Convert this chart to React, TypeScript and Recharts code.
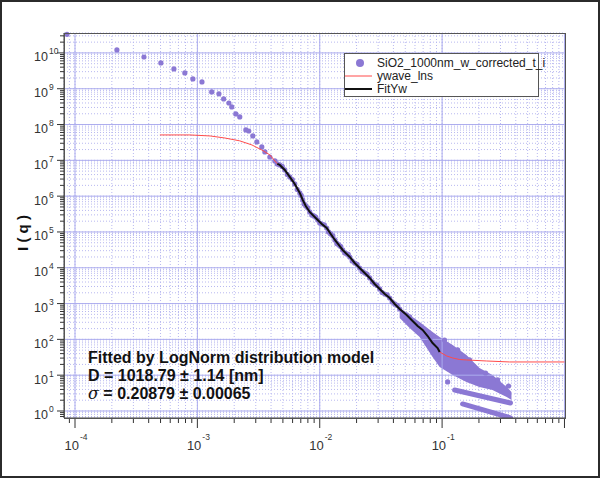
import React from 'react'
import { ComposedChart, XAxis, YAxis, CartesianGrid, Line, Area, ReferenceLine } from 'recharts'

const PURPLE = '#8b78d4'
const FONT = '"Liberation Sans", Arial, Helvetica, sans-serif'

// axis ranges
const qDomain = [8.13e-5, 1.01]
const iDomain = [0.637, 3.6e10]

// tick positions
const qDecades = [1e-5, 1e-4, 1e-3, 1e-2, 1e-1, 1]
const iDecades = [1e-1, 1, 1e1, 1e2, 1e3, 1e4, 1e5, 1e6, 1e7, 1e8, 1e9, 1e10]
const multipliers = [1, 2, 3, 4, 5, 6, 7, 8, 9]
const qMajor = [1e-4, 1e-3, 1e-2, 1e-1, 1]
const iMajor = [1, 1e1, 1e2, 1e3, 1e4, 1e5, 1e6, 1e7, 1e8, 1e9, 1e10]

// SiO2_1000nm_w_corrected_t_i  (q, I)
const measuredLowQ: [number, number][] = [
  [8.6e-5, 3.3e10], [2.2e-4, 1.21e10], [3.66e-4, 7.7e9], [5.03e-4, 5.26e9], [6.43e-4, 3.57e9],
  [7.9e-4, 2.76e9], [9.19e-4, 1.88e9], [1.09e-3, 1.55e9], [1.31e-3, 8.15e8], [1.5e-3, 7.2e8],
  [1.64e-3, 5.2e8], [1.81e-3, 4.0e8], [1.91e-3, 3.1e8], [2.06e-3, 1.98e8], [2.22e-3, 1.63e8],
  [2.49e-3, 7.06e7], [2.63e-3, 6.6e7], [2.84e-3, 4.8e7], [3.06e-3, 3.27e7], [3.36e-3, 2.37e7],
  [3.56e-3, 1.72e7], [3.91e-3, 1.24e7], [4.3e-3, 9.6e6],
]
const measuredMidQ: [number, number][] = [
  [4.5e-3, 7.93e6], [4.71e-3, 7.45e6], [4.94e-3, 6.76e6], [5.18e-3, 5.4e6], [5.43e-3, 4.04e6],
  [5.69e-3, 3.44e6], [5.97e-3, 2.92e6], [6.25e-3, 2.19e6], [6.55e-3, 1.54e6], [6.87e-3, 1.23e6],
  [7.06e-3, 1.05e6], [7.26e-3, 7.83e5], [7.46e-3, 6.05e5], [7.69e-3, 5.32e5], [7.98e-3, 4.68e5],
  [8.28e-3, 3.62e5], [8.61e-3, 2.98e5], [8.93e-3, 2.8e5], [9.27e-3, 2.62e5], [9.63e-3, 2.16e5],
  [1.0e-2, 1.78e5], [1.04e-2, 1.67e5], [1.09e-2, 1.57e5], [1.14e-2, 1.29e5], [1.18e-2, 1.0e5],
  [1.23e-2, 8.8e4], [1.28e-2, 7.73e4], [1.33e-2, 5.98e4], [1.38e-2, 4.77e4], [1.43e-2, 4.34e4],
  [1.48e-2, 3.94e4], [1.54e-2, 3.14e4], [1.6e-2, 2.59e4], [1.66e-2, 2.43e4], [1.71e-2, 2.36e4],
  [1.76e-2, 2.0e4], [1.84e-2, 1.55e4], [1.93e-2, 1.36e4], [2.02e-2, 1.24e4], [2.12e-2, 9.86e3],
  [2.22e-2, 7.89e3], [2.33e-2, 7.16e3], [2.44e-2, 6.5e3], [2.56e-2, 5.19e3], [2.69e-2, 4.01e3],
  [2.81e-2, 3.52e3], [2.94e-2, 3.21e3], [3.09e-2, 2.56e3], [3.24e-2, 2.04e3], [3.4e-2, 1.85e3],
  [3.56e-2, 1.74e3], [3.73e-2, 1.43e3], [3.91e-2, 1.11e3], [4.1e-2, 975], [4.3e-2, 885],
  [4.5e-2, 706], [4.81e-2, 546], [5.13e-2, 481], [5.43e-2, 423], [5.74e-2, 327],
  [6.03e-2, 261], [6.31e-2, 237], [6.61e-2, 222], [6.93e-2, 183], [7.26e-2, 142],
  [7.62e-2, 124], [7.98e-2, 106], [8.36e-2, 79], [8.77e-2, 63.4], [9.19e-2, 57.5],
]
const measuredHighQ: [number, number][] = [
  [0.1047, 96.2], [0.134, 50.6], [0.1675, 26.6], [0.2265, 11.5], [0.284, 7.35],
  [0.349, 4.99], [0.111, 6.5], [0.177, 15.9],
]
// dense cloud of points at high q (upper / lower envelope)
const cloudQ = [0.045, 0.0543, 0.0655, 0.0836, 0.0955, 0.122, 0.158, 0.202, 0.258, 0.337, 0.369]
const cloudHi = [754, 481, 306, 161, 117, 69.8, 36.6, 15.9, 10.1, 4.68, 3.4]
const cloudLo = [396, 208, 117, 32.2, 16.9, 10.1, 6.46, 4.68, 3.86, 2.46, 2.03]
// two streaks of points below the cloud
const streak1: [number, number][] = [[0.1265, 3.86], [0.362, 1.67]]
const streak2: [number, number][] = [[0.147, 1.57], [0.362, 0.645]]

// FitYw
const fitQ = [4.5e-3, 4.71e-3, 5.18e-3, 5.69e-3, 6.25e-3, 6.87e-3, 7.26e-3, 7.69e-3, 8.28e-3, 8.93e-3,
  9.63e-3, 1.04e-2, 1.14e-2, 1.23e-2, 1.33e-2, 1.43e-2, 1.54e-2, 1.66e-2, 1.76e-2, 1.93e-2,
  2.12e-2, 2.33e-2, 2.56e-2, 2.81e-2, 3.09e-2, 3.4e-2, 3.73e-2, 4.1e-2, 4.5e-2, 5.13e-2,
  5.74e-2, 6.31e-2, 6.93e-2, 7.62e-2, 8.36e-2, 9.19e-2, 9.55e-2]
const fitI = [8.0e6, 7.45e6, 5.4e6, 3.44e6, 2.19e6, 1.23e6, 7.83e5, 5.32e5, 3.62e5, 2.8e5,
  2.16e5, 1.67e5, 1.29e5, 8.8e4, 5.98e4, 4.34e4, 3.14e4, 2.43e4, 2.0e4, 1.36e4,
  9.86e3, 7.16e3, 5.19e3, 3.52e3, 2.56e3, 1.85e3, 1.43e3, 975, 706, 481,
  327, 237, 183, 124, 79, 57.5, 44.5]

// ywave_lns
const lnsHeadQ = [4.94e-4, 8.69e-4, 1.27e-3, 1.68e-3, 2.22e-3, 2.79e-3, 3.36e-3, 3.91e-3]
const lnsHeadI = [5.12e7, 5.12e7, 4.8e7, 4.2e7, 3.5e7, 2.69e7, 1.95e7, 1.42e7]
const lnsTailQ = [0.109, 0.122, 0.139, 0.158, 0.231, 0.356, 1.0]
const lnsTailI = [34.4, 30.2, 27.4, 26.6, 24.9, 23.4, 23.4]

const toPts = (qs: number[], is: number[]) => qs.map((q, k) => ({ q, i: is[k] }))
const pairPts = (p: [number, number][]) => p.map(([q, i]) => ({ q, i }))

const lowData = pairPts(measuredLowQ)
const scatterData = pairPts([...measuredMidQ, ...measuredHighQ])
const cloudData = cloudQ.map((q, k) => ({ q, range: [cloudLo[k], cloudHi[k]] }))
const fitData = toPts(fitQ, fitI)
const lnsData = [...toPts(lnsHeadQ, lnsHeadI), ...fitData, ...toPts(lnsTailQ, lnsTailI)]

const buildTicks = (decades: number[], [lo, hi]: number[]) =>
  decades.flatMap((d) => multipliers.map((m) => m * d)).filter((v) => v >= lo && v <= hi)

const qTicks = buildTicks(qDecades, qDomain)
const iTicks = buildTicks(iDecades, iDomain)

const isMajor = (v: number) => Math.abs(Math.log10(v) - Math.round(Math.log10(v))) < 1e-6

const XTick = (props: any) => {
  const { x, y, payload } = props
  const v = payload.value
  const major = isMajor(v)
  const e = Math.round(Math.log10(v))
  return (
    <g>
      <line x1={x} x2={x} y1={y} y2={y + (major ? 10 : 5)} stroke="#333" />
      {major && v < 0.5 && (
        <g fontFamily={FONT} fill="#333">
          <text x={x + 4} y={y + 32} textAnchor="end" fontSize={13}>10</text>
          <text x={x + 5} y={y + 22} fontSize={8.5}>{e}</text>
        </g>
      )}
    </g>
  )
}

const YTick = (props: any) => {
  const { x, y, payload } = props
  const v = payload.value
  const major = isMajor(v)
  const e = Math.round(Math.log10(v))
  return (
    <g>
      <line x1={x - (major ? 7 : 4)} x2={x} y1={y} y2={y} stroke="#333" />
      {major && v >= 1 && (
        <g fontFamily={FONT} fill="#333">
          <text x={x - 16} y={y + 8.5} textAnchor="end" fontSize={12.5}>10</text>
          <text x={x - 15} y={y + 1.5} fontSize={8.5}>{e}</text>
        </g>
      )}
    </g>
  )
}

const dotStyle = { r: 2.6, fill: PURPLE, stroke: 'none', strokeWidth: 0, clipDot: false }

const CHART_MARGIN = { top: 33, right: 35, bottom: 0, left: 0 }

// shared log axes; `bare` hides everything for the overlay layer
const axes = (bare: boolean) => [
  <XAxis
    key="x"
    dataKey="q"
    type="number"
    scale="log"
    domain={qDomain}
    allowDataOverflow
    ticks={qTicks}
    interval={0}
    height={60}
    tickSize={0}
    tickMargin={0}
    tickLine={false}
    axisLine={!bare}
    tick={bare ? false : <XTick />}
    stroke="#444"
  />,
  <YAxis
    key="y"
    type="number"
    scale="log"
    domain={iDomain}
    allowDataOverflow
    ticks={iTicks}
    interval={0}
    width={64}
    tickSize={0}
    tickMargin={0}
    tickLine={false}
    axisLine={!bare}
    tick={bare ? false : <YTick />}
    stroke="#444"
  />,
]

export default function App() {
  return (
    <div style={{ position: 'absolute', left: 0, top: 0, width: 600, height: 478, background: '#fff' }}>
      <div style={{ position: 'absolute', left: 0, top: 0 }}>
        <ComposedChart width={600} height={478} margin={CHART_MARGIN}>
          <CartesianGrid stroke="#b8b8f0" strokeDasharray="1 2" />
          {qMajor.map((v) => (
            <ReferenceLine key={'q' + v} x={v} stroke="#acacee" />
          ))}
          {iMajor.map((v) => (
            <ReferenceLine key={'i' + v} y={v} stroke="#acacee" />
          ))}
          {axes(false)}
          <Area
            data={cloudData}
            dataKey="range"
            type="linear"
            stroke="none"
            fill={PURPLE}
            fillOpacity={1}
            isAnimationActive={false}
          />
          <Line data={pairPts(streak1)} dataKey="i" stroke={PURPLE} strokeWidth={5} strokeLinecap="round" dot={false} isAnimationActive={false} />
          <Line data={pairPts(streak2)} dataKey="i" stroke={PURPLE} strokeWidth={5} strokeLinecap="round" dot={false} isAnimationActive={false} />
          <Line data={scatterData} dataKey="i" stroke="none" dot={dotStyle} activeDot={false} isAnimationActive={false} />
          <Line data={lowData} dataKey="i" stroke="none" dot={dotStyle} activeDot={false} isAnimationActive={false} />
        </ComposedChart>
      </div>
      {/* fitted curves drawn above the measured points */}
      <div style={{ position: 'absolute', left: 0, top: 0 }}>
        <ComposedChart width={600} height={478} margin={CHART_MARGIN}>
          {axes(true)}
          <Line data={lnsData} dataKey="i" stroke="#ff4b4b" strokeWidth={1} dot={false} isAnimationActive={false} />
          <Line data={fitData} dataKey="i" stroke="#111" strokeWidth={2} dot={false} isAnimationActive={false} />
        </ComposedChart>
      </div>
      <div style={{ position: 'absolute', left: 64, top: 33, width: 502, height: 386, border: '1px solid #555', boxSizing: 'border-box', pointerEvents: 'none' }} />
      <svg width={600} height={478} style={{ position: 'absolute', left: 0, top: 0, pointerEvents: 'none' }}>
        <text x={28} y={233} transform="rotate(-90 28 233)" textAnchor="middle" fontFamily={FONT} fontWeight="bold" fontSize={15} fill="#111">
          I ( q )
        </text>
        <g fontFamily={FONT}>
          <rect x={344.5} y={53.5} width={194} height={43} fill="#fff" stroke="#555" />
          <circle cx={360} cy={63} r={4} fill={PURPLE} />
          <line x1={345} x2={372} y1={76} y2={76} stroke="#ff4b4b" />
          <line x1={345} x2={372} y1={89} y2={89} stroke="#111" strokeWidth={2} />
          <text x={377} y={67} fontSize={12} fill="#222">SiO2_1000nm_w_corrected_t_i</text>
          <text x={377} y={80} fontSize={12} fill="#222">ywave_lns</text>
          <text x={377} y={93} fontSize={12} fill="#222">FitYw</text>
        </g>
        <g fontFamily={FONT} fontWeight="bold" fontSize={16} fill="#111">
          <text x={88} y={363}>Fitted by LogNorm distribution model</text>
          <text x={88} y={381}>D = 1018.79 ± 1.14 [nm]</text>
          <text x={88} y={399}>
            <tspan fontStyle="italic" fontFamily="'DejaVu Serif', serif" fontWeight="normal">σ</tspan> = 0.20879 ± 0.00065
          </text>
        </g>
      </svg>
      <div style={{ position: 'absolute', left: 0, top: 0, width: 600, height: 478, border: '2px solid #2b2b2b', boxSizing: 'border-box', pointerEvents: 'none' }} />
    </div>
  )
}
